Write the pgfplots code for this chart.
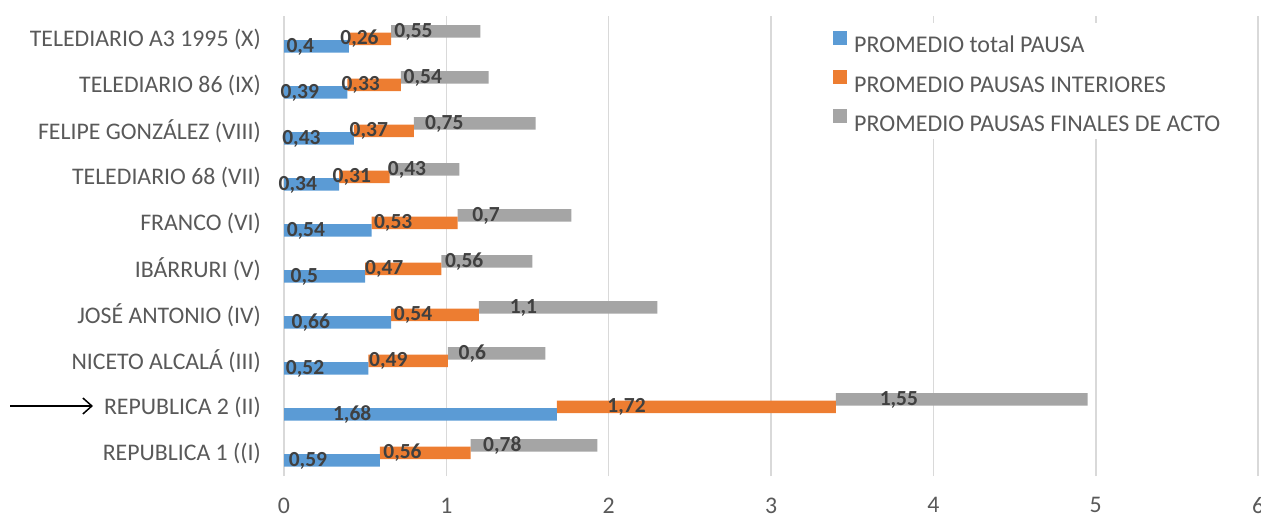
\documentclass[border=0pt]{standalone}
\usepackage{fontspec}
\setmainfont{Carlito}
\usepackage{pgfplots}
\pgfplotsset{compat=1.18}
\usepackage{pgfplotstable}
\usetikzlibrary{arrows.meta}

\definecolor{serA}{HTML}{5B9BD5}
\definecolor{serB}{HTML}{ED7D31}
\definecolor{serC}{HTML}{A5A5A5}
\definecolor{txt}{HTML}{595959}
\definecolor{lbl}{HTML}{404040}
\definecolor{grd}{HTML}{D9D9D9}

% pos 1 = REPUBLICA 1 (bottom) ... 10 = TELEDIARIO A3 1995 (top)
\pgfplotstableread{
pos total interiores finales
1   0.59  0.56  0.78
2   1.68  1.72  1.55
3   0.52  0.49  0.6
4   0.66  0.54  1.1
5   0.5   0.47  0.56
6   0.54  0.53  0.7
7   0.34  0.31  0.43
8   0.43  0.37  0.75
9   0.39  0.33  0.54
10  0.4   0.26  0.55
}\datos

\begin{document}
\begin{tikzpicture}
\useasboundingbox (0,0) rectangle (1261bp,515bp);
\begin{axis}[
  at={(284bp,39bp)}, anchor=south west,
  x=162.35bp, y=46bp,
  xmin=0, xmax=6, ymin=0.5, ymax=10.5,
  xbar stacked, bar width=12.5bp,
  axis line style={draw=none},
  major tick length=0pt,
  xmajorgrids, grid style={grd, line width=1.5bp},
  xtick={0,1,...,6},
  ytick={1,...,10},
  yticklabels={REPUBLICA 1 ((I), REPUBLICA 2 (II), NICETO ALCALÁ (III),
    JOSÉ ANTONIO (IV), IBÁRRURI (V), FRANCO (VI), TELEDIARIO 68 (VII),
    FELIPE GONZÁLEZ (VIII), TELEDIARIO 86 (IX), TELEDIARIO A3 1995 (X)},
  /pgf/number format/assume math mode=true,
  ticklabel style={font=\fontsize{23.8bp}{28bp}\selectfont, text=txt, inner sep=0pt},
  yticklabel style={xshift=-23bp},
  xticklabel style={yshift=-21.5bp},
  legend style={at={(axis cs:3.332,10.36)}, anchor=north west,
    draw=none, fill=white, inner xsep=8bp, inner ysep=8bp,
    font=\fontsize{24bp}{28bp}\selectfont, text=txt,
    nodes={inner sep=0pt, text height=15.5bp, text depth=0bp},
    row sep=17bp, /tikz/every odd column/.style={column sep=7bp}},
  legend cell align=left,
  legend image code/.code={\fill[#1, draw=none] (0bp,0.5bp) rectangle (14bp,14.5bp);},
  nodes near coords style={font=\fontsize{21.5bp}{24bp}\selectfont\bfseries, text=lbl},
]
\addplot[fill=serA, draw=none, bar shift=-7.5bp,
  visualization depends on={\thisrow{total} \as \val},
  nodes near coords={\pgfmathprintnumber[use comma]{\val}},
  every node near coord/.append style={anchor=center, xshift={-\val*40.5875bp}}]
  table[x=total, y=pos]{\datos};
\addlegendentry{PROMEDIO total PAUSA}
\addplot[fill=serB, draw=none, bar shift=0bp,
  visualization depends on={\thisrow{interiores} \as \val},
  nodes near coords={\pgfmathprintnumber[use comma]{\val}},
  every node near coord/.append style={anchor=center, xshift={-\val*40.5875bp}}]
  table[x=interiores, y=pos]{\datos};
\addlegendentry{PROMEDIO PAUSAS INTERIORES}
\addplot[fill=serC, draw=none, bar shift=7.5bp,
  visualization depends on={\thisrow{finales} \as \val},
  nodes near coords={\pgfmathprintnumber[use comma]{\val}},
  every node near coord/.append style={anchor=center, xshift={-\val*40.5875bp}}]
  table[x=finales, y=pos]{\datos};
\addlegendentry{PROMEDIO PAUSAS FINALES DE ACTO}
\end{axis}
\draw[line width=1.5bp, -{Straight Barb[length=9bp, width=16bp, line width=1.5bp]}]
  (10bp,109bp) -- (93bp,109bp);
\end{tikzpicture}
\end{document}
